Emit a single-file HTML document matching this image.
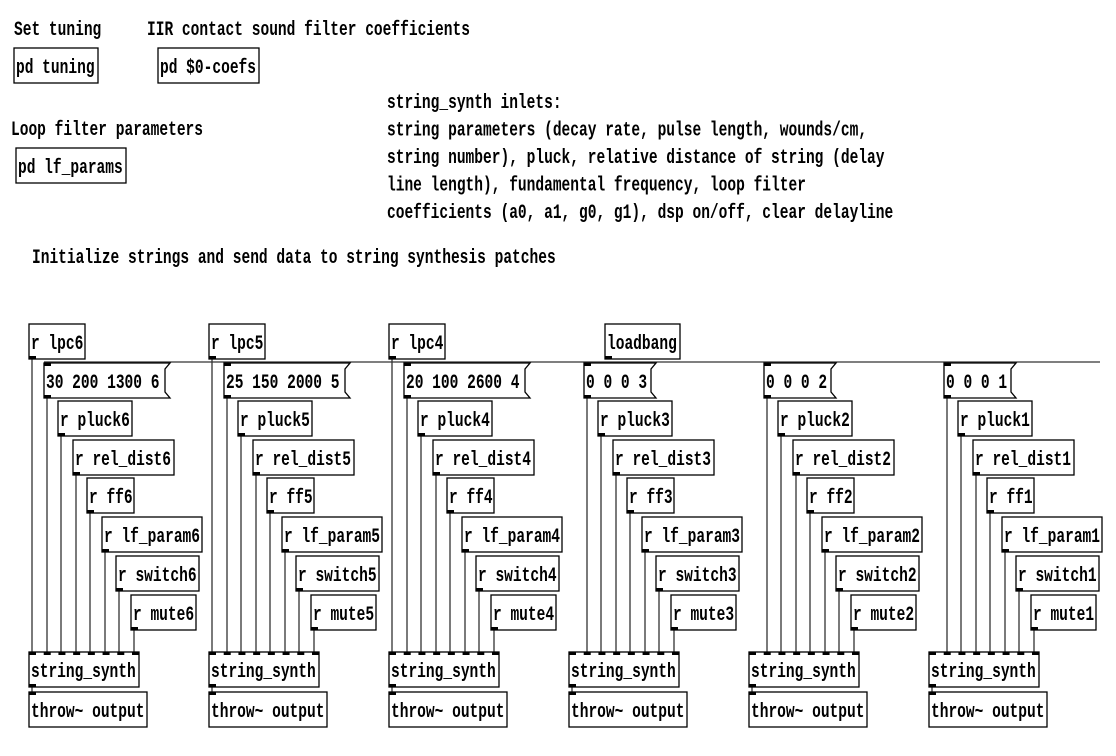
<!DOCTYPE html>
<html><head><meta charset="utf-8"><style>
html,body{margin:0;padding:0;background:#fff;width:1116px;height:756px;overflow:hidden}
svg{display:block}
text{font-family:"Liberation Mono",monospace;font-size:15px;fill:#000;font-weight:bold}
</style></head><body>
<svg id="patch" width="1116" height="756" viewBox="0 0 1116 756" xmlns="http://www.w3.org/2000/svg"></svg>
<script>
const columnNumbers = [6,5,4,3,2,1];
const messageTexts = ["30 200 1300 6","25 150 2000 5","20 100 2600 4","0 0 0 3","0 0 0 2","0 0 0 1"];
const hasLpc = [true,true,true,false,false,false];

const svg = document.getElementById('patch');
const NS = 'http://www.w3.org/2000/svg';
function mk(tag, attrs){const e=document.createElementNS(NS,tag);for(const k in attrs)e.setAttribute(k,attrs[k]);svg.appendChild(e);return e;}
function label(x,y,str,name){
  const t=mk('text',{transform:`translate(${x},${y}) scale(0.97,1.35)`});
  t.textContent=str;
  
  
  return t;
}
function box(x,y,w,str,name,opts){
  opts=opts||{};
  const h=35;
  const g=document.createElementNS(NS,'g');svg.appendChild(g);
  
  
  let shape;
  if(opts.msg){
    shape=document.createElementNS(NS,'path');
    shape.setAttribute('d',`M${x} ${y}H${x+w+5}L${x+w} ${y+6}V${y+h-6}L${x+w+5} ${y+h}H${x}Z`);
  } else {
    shape=document.createElementNS(NS,'rect');
    shape.setAttribute('x',x);shape.setAttribute('y',y);shape.setAttribute('width',w);shape.setAttribute('height',h);
  }
  shape.setAttribute('fill','#fff');shape.setAttribute('stroke','#000');shape.setAttribute('stroke-width','1.3');
  g.appendChild(shape);
  const t=document.createElementNS(NS,'text');
  t.setAttribute('transform',`translate(${x+2},${y+25}) scale(0.97,1.35)`);
  t.textContent=str;g.appendChild(t);
  const io=(xx,yy)=>{const r=document.createElementNS(NS,'rect');r.setAttribute('x',xx);r.setAttribute('y',yy);r.setAttribute('width',7);r.setAttribute('height',3);r.setAttribute('fill','#000');g.appendChild(r);};
  if(opts.inlets){for(let i=0;i<opts.inlets;i++){const xx=opts.inlets===1?x:x+i*(w-7)/(opts.inlets-1);io(xx,y);}}
  if(opts.outlet!==false)io(x,y+h-3);
  return g;
}
function line(x1,y1,x2,y2){mk('line',{x1,y1,x2,y2,stroke:'#333','stroke-width':1.3});}

label(14,35,'Set tuning','comment-set-tuning');
label(147,35,'IIR contact sound filter coefficients','comment-iir-coefs');
label(11,135,'Loop filter parameters','comment-loop-filter');
const info=['string_synth inlets:','string parameters (decay rate, pulse length, wounds/cm,','string number), pluck, relative distance of string (delay','line length), fundamental frequency, loop filter','coefficients (a0, a1, g0, g1), dsp on/off, clear delayline'];
info.forEach((s,i)=>label(387,108+i*27.5,s,'comment-inlets-'+i));
label(32,263,'Initialize strings and send data to string synthesis patches','comment-initialize');

box(14,48,84,'pd tuning','pd-tuning-subpatch',{inlets:0,outlet:false});
box(158,48,101,'pd $0-coefs','pd-coefs-subpatch',{inlets:0,outlet:false});
box(16,148,110,'pd lf_params','pd-lf-params-subpatch',{inlets:0,outlet:false});

line(44,362,1100,362);

const rows=[
 {dx:15,y:363,w:null,pre:null},
 {dx:29,y:401,w:74,pre:'r pluck'},
 {dx:44,y:440,w:101,pre:'r rel_dist'},
 {dx:58,y:478,w:47,pre:'r ff'},
 {dx:73,y:517,w:100,pre:'r lf_param'},
 {dx:87,y:556,w:83,pre:'r switch'},
 {dx:102,y:595,w:65,pre:'r mute'}
];
const rowNames=['message','pluck','rel-dist','ff','lf-param','switch','mute'];

columnNumbers.forEach((n,i)=>{
  const x0=29+i*180;
  if(hasLpc[i]) line(x0+3,357,x0+3,652);
  rows.forEach((r,k)=>{
    const xs=x0+r.dx+3;
    line(xs,r.y+33,xs,652);
  });
  line(x0+3,687,x0+3,692);
  if(hasLpc[i]) box(x0,324,56,'r lpc'+n,'receive-lpc'+n,{inlets:0});
  const mw=messageTexts[i].length*9+4;
  box(x0+15,363,mw,messageTexts[i],'message-params-'+n,{inlets:1,msg:true});
  rows.slice(1).forEach((r,k)=>{
    box(x0+r.dx,r.y,r.w,r.pre+n,'receive-'+rowNames[k+1]+n,{inlets:0});
  });
  box(x0,652,110,'string_synth','string-synth-'+n,{inlets:8});
  box(x0,692,118,'throw~ output','throw-output-'+n,{inlets:1,outlet:false});
});
box(605,324,75,'loadbang','loadbang',{inlets:0});
</script>
</body></html>
